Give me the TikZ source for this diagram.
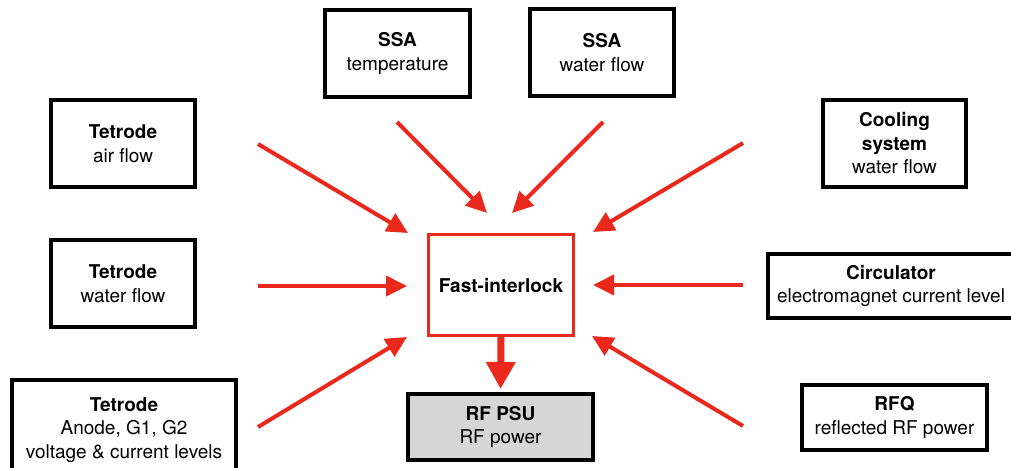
\documentclass[tikz,border=0pt]{standalone}
\usepackage{fontspec}
\setmainfont{TeX Gyre Heros}
\usetikzlibrary{arrows.meta}
\definecolor{alarm}{RGB}{234,41,28}
\definecolor{psufill}{RGB}{214,214,214}
\begin{document}
\begin{tikzpicture}[x=1pt,y=-1pt,
  every node/.style={font=\fontsize{19}{23.5}\selectfont, align=center},
  src/.style={draw=black, line width=4pt, inner sep=0pt},
  core/.style={draw=alarm, line width=3pt, inner sep=0pt},
  feed/.style={draw=alarm, line width=4pt, -{Triangle[length=21pt,width=20pt]}},
  trip/.style={draw=alarm, line width=7pt, -{Triangle[length=27pt,width=28pt]}}]
\clip (0,0) rectangle (1011,467);

% signal sources
\node[src, minimum width=145pt, minimum height=87pt] (ssaT) at (397.5,53.5) {\textbf{SSA}\\temperature};
\node[src, minimum width=144pt, minimum height=87pt] (ssaW) at (602,52.5) {\textbf{SSA}\\water flow};
\node[src, minimum width=144pt, minimum height=87pt] (airT) at (123,143.5) {\textbf{Tetrode}\\air flow};
\node[src, minimum width=143pt, minimum height=87pt] (cool) at (894.5,143.5) {\textbf{Cooling}\\\textbf{system}\\water flow};
\node[src, minimum width=144pt, minimum height=87pt] (watT) at (123,283.5) {\textbf{Tetrode}\\water flow};
\node[src, minimum width=246pt, minimum height=64pt] (circ) at (891,286) {\textbf{Circulator}\\electromagnet current level};
\node[src, minimum width=224pt, minimum height=100pt] (anode) at (124,430) {\textbf{Tetrode}\\Anode, G1, G2\\voltage \& current levels};
\node[src, minimum width=185pt, minimum height=65pt] (rfq) at (894.5,417.5) {\textbf{RFQ}\\reflected RF power};

% interlock and the supply it trips
\node[core, minimum width=145pt, minimum height=101pt] (fi) at (501,285) {\textbf{Fast-interlock}};
\node[src, fill=psufill, minimum width=185pt, minimum height=66pt] (psu) at (500.5,427) {\textbf{RF PSU}\\RF power};

% arrow end points
\coordinate (airS) at (258,144);   \coordinate (airE) at (408,233);
\coordinate (ssaTS) at (397,122);  \coordinate (ssaTE) at (487,213);
\coordinate (ssaWS) at (603,122);  \coordinate (ssaWE) at (512,213);
\coordinate (coolS) at (743,143);  \coordinate (coolE) at (593,232);
\coordinate (watS) at (258,286);   \coordinate (watE) at (407,286);
\coordinate (circS) at (743,285);  \coordinate (circE) at (593,285);
\coordinate (anodeS) at (258,427); \coordinate (anodeE) at (407,337);
\coordinate (rfqS) at (743,426);   \coordinate (rfqE) at (592,336);

\draw[feed] (airS) -- (airE);
\draw[feed] (ssaTS) -- (ssaTE);
\draw[feed] (ssaWS) -- (ssaWE);
\draw[feed] (coolS) -- (coolE);
\draw[feed] (watS) -- (watE);
\draw[feed] (circS) -- (circE);
\draw[feed] (anodeS) -- (anodeE);
\draw[feed] (rfqS) -- (rfqE);

\draw[trip] (fi.south) -- ([yshift=3pt]psu.north);
\end{tikzpicture}
\end{document}
